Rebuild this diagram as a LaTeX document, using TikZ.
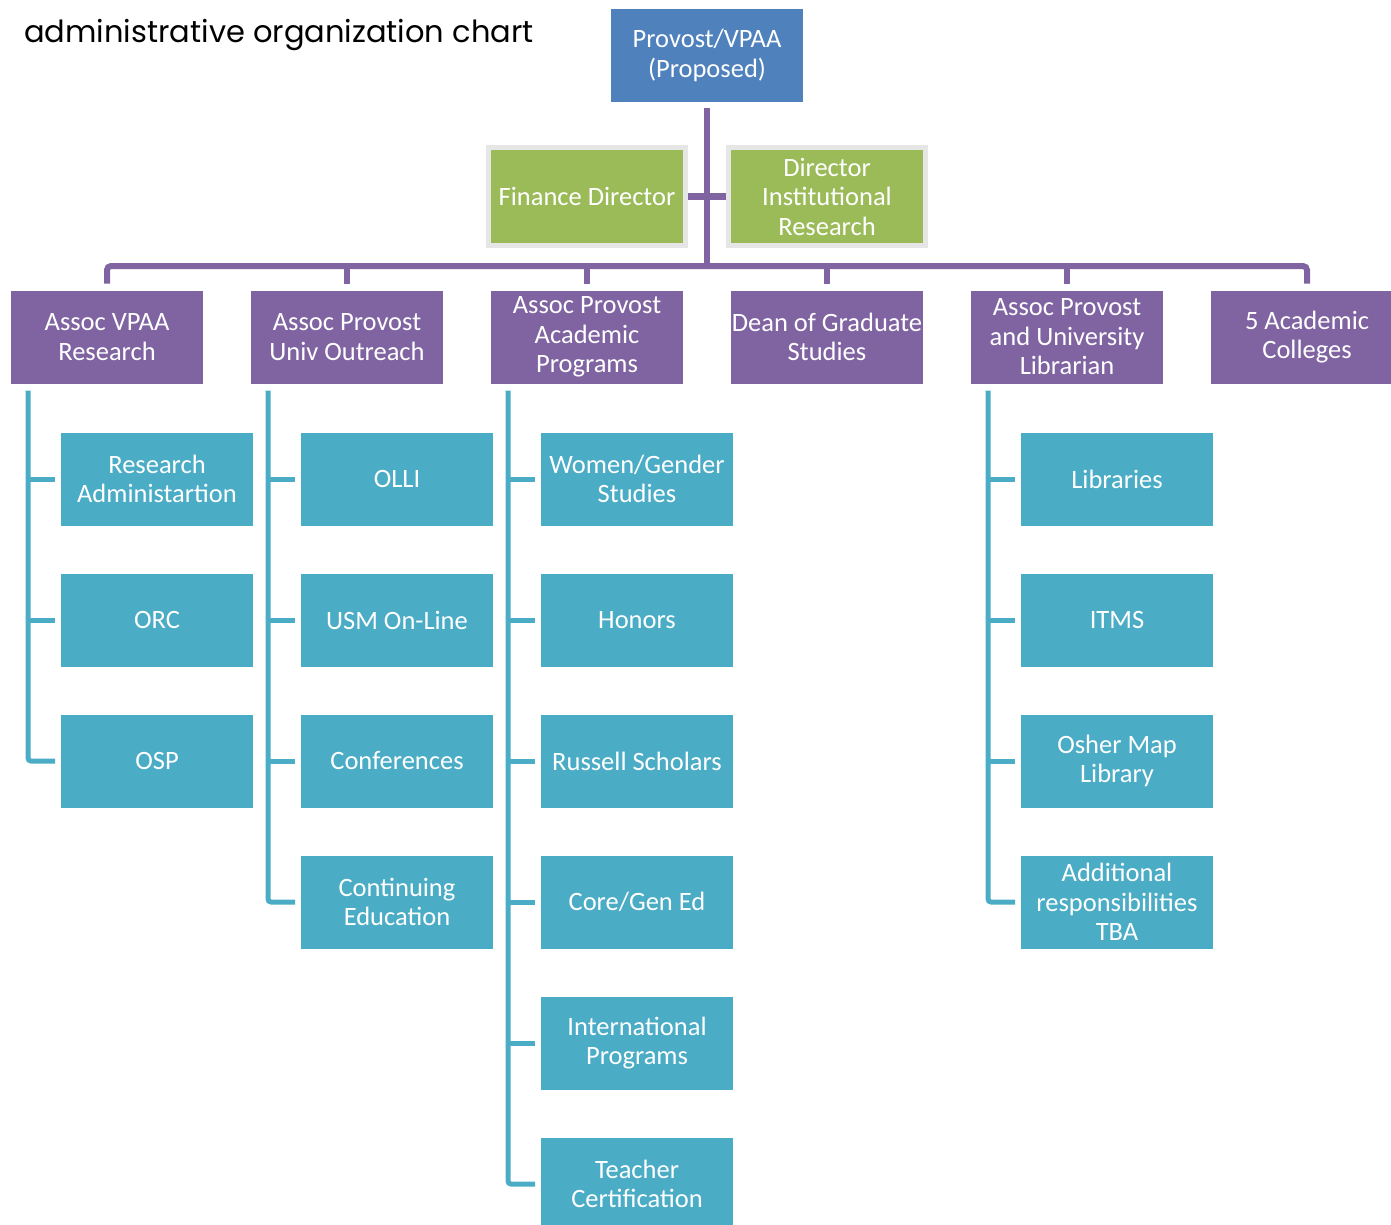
\documentclass[tikz,border=0pt]{standalone}
\usepackage{fontspec}
\setmainfont{Carlito}
\newfontfamily\titlefont{Poppins}
\usetikzlibrary{positioning}
\definecolor{provblue}{HTML}{4F81BD}
\definecolor{staffgreen}{HTML}{9BBB59}
\definecolor{staffgray}{HTML}{E6E6E6}
\definecolor{deptpurple}{HTML}{8064A2}
\definecolor{officeteal}{HTML}{4BACC6}
\tikzset{
  unitbox/.style={text=white, align=center, inner sep=0pt, outer sep=0pt,
    minimum width=192pt, minimum height=93pt, font=\fontsize{26.5}{29.5}\selectfont},
  provbox/.style={unitbox, fill=provblue},
  staffbox/.style={unitbox, fill=staffgreen, draw=staffgray, line width=5pt,
    minimum width=197pt, minimum height=98pt},
  deptbox/.style={unitbox, fill=deptpurple},
  officebox/.style={unitbox, fill=officeteal},
  pline/.style={draw=deptpurple, line width=6pt},
  tline/.style={draw=officeteal, line width=5pt, rounded corners=3pt},
}

\begin{document}
\begin{tikzpicture}[x=1pt, y=-1pt, node distance=48pt]
  \useasboundingbox (0,0) rectangle (1391,1225);

  \node[font=\titlefont\fontsize{30.5}{36}\selectfont, anchor=base west, inner sep=0pt]
    (title) at (24,43) {administrative organization chart};

  % top
  \node[provbox] (prov) at (707,55.5) {Provost/VPAA\\(Proposed)};
  \node[staffbox] (fin) at (587,196.5) {Finance Director};
  \node[staffbox] (dir) at (827,196.5) {Director\\Institutional\\Research};

  % second level
  \node[deptbox] (p1) at (107,337) {Assoc VPAA\\Research};
  \node[deptbox] (p2) [right=of p1] {Assoc Provost\\Univ Outreach};
  \node[deptbox] (p3) [right=of p2] {Assoc Provost\\Academic\\Programs};
  \node[deptbox] (p4) [right=of p3] {Dean of Graduate\\Studies};
  \node[deptbox] (p5) [right=of p4] {Assoc Provost\\and University\\Librarian};
  \node[deptbox] (p6) [right=of p5] {5 Academic\\Colleges};

  % offices
  \node[officebox] (t11) [below=49pt of p1, xshift=50pt] {Research\\Administartion};
  \node[officebox] (t12) [below=of t11] {ORC};
  \node[officebox] (t13) [below=of t12] {OSP};

  \node[officebox] (t21) [below=49pt of p2, xshift=50pt] {OLLI};
  \node[officebox] (t22) [below=of t21] {USM On-Line};
  \node[officebox] (t23) [below=of t22] {Conferences};
  \node[officebox] (t24) [below=of t23] {Continuing\\Education};

  \node[officebox] (t31) [below=49pt of p3, xshift=50pt] {Women/Gender\\Studies};
  \node[officebox] (t32) [below=of t31] {Honors};
  \node[officebox] (t33) [below=of t32] {Russell Scholars};
  \node[officebox] (t34) [below=of t33] {Core/Gen Ed};
  \node[officebox] (t35) [below=of t34] {International\\Programs};
  \node[officebox] (t36) [below=of t35] {Teacher\\Certification};

  \node[officebox] (t51) [below=49pt of p5, xshift=50pt] {Libraries};
  \node[officebox] (t52) [below=of t51] {ITMS};
  \node[officebox] (t53) [below=of t52] {Osher Map\\Library};
  \node[officebox] (t54) [below=of t53] {Additional\\responsibilities\\TBA};

  % purple tree
  \coordinate (bus) at (707,266);
  \draw[pline, shorten <=6pt] (prov.south) -- (bus);
  \draw[pline, shorten <=2.5pt, shorten >=2.5pt] (fin.east) -- (dir.west);
  \draw[pline, rounded corners=4pt, shorten <=7pt, shorten >=7pt]
    (p1.north) |- (bus) -| (p6.north);
  \foreach \p in {p2,p3,p4,p5}
    \draw[pline, shorten <=7pt] (\p.north) -- (\p.north |- bus);

  % teal brackets
  \foreach \p/\last/\rest in {p1/t13/{t11,t12}, p2/t24/{t21,t22,t23},
      p3/t36/{t31,t32,t33,t34,t35}, p5/t54/{t51,t52,t53}} {
    \coordinate (\p c) at ([xshift=17pt, yshift=-7pt]\p.south west);
    \draw[tline, shorten >=6pt] (\p c) |- (\last.west);
    \foreach \t in \rest
      \draw[tline, shorten <=6pt] (\t.west) -- (\t.west -| \p c);
  }
\end{tikzpicture}
\end{document}
